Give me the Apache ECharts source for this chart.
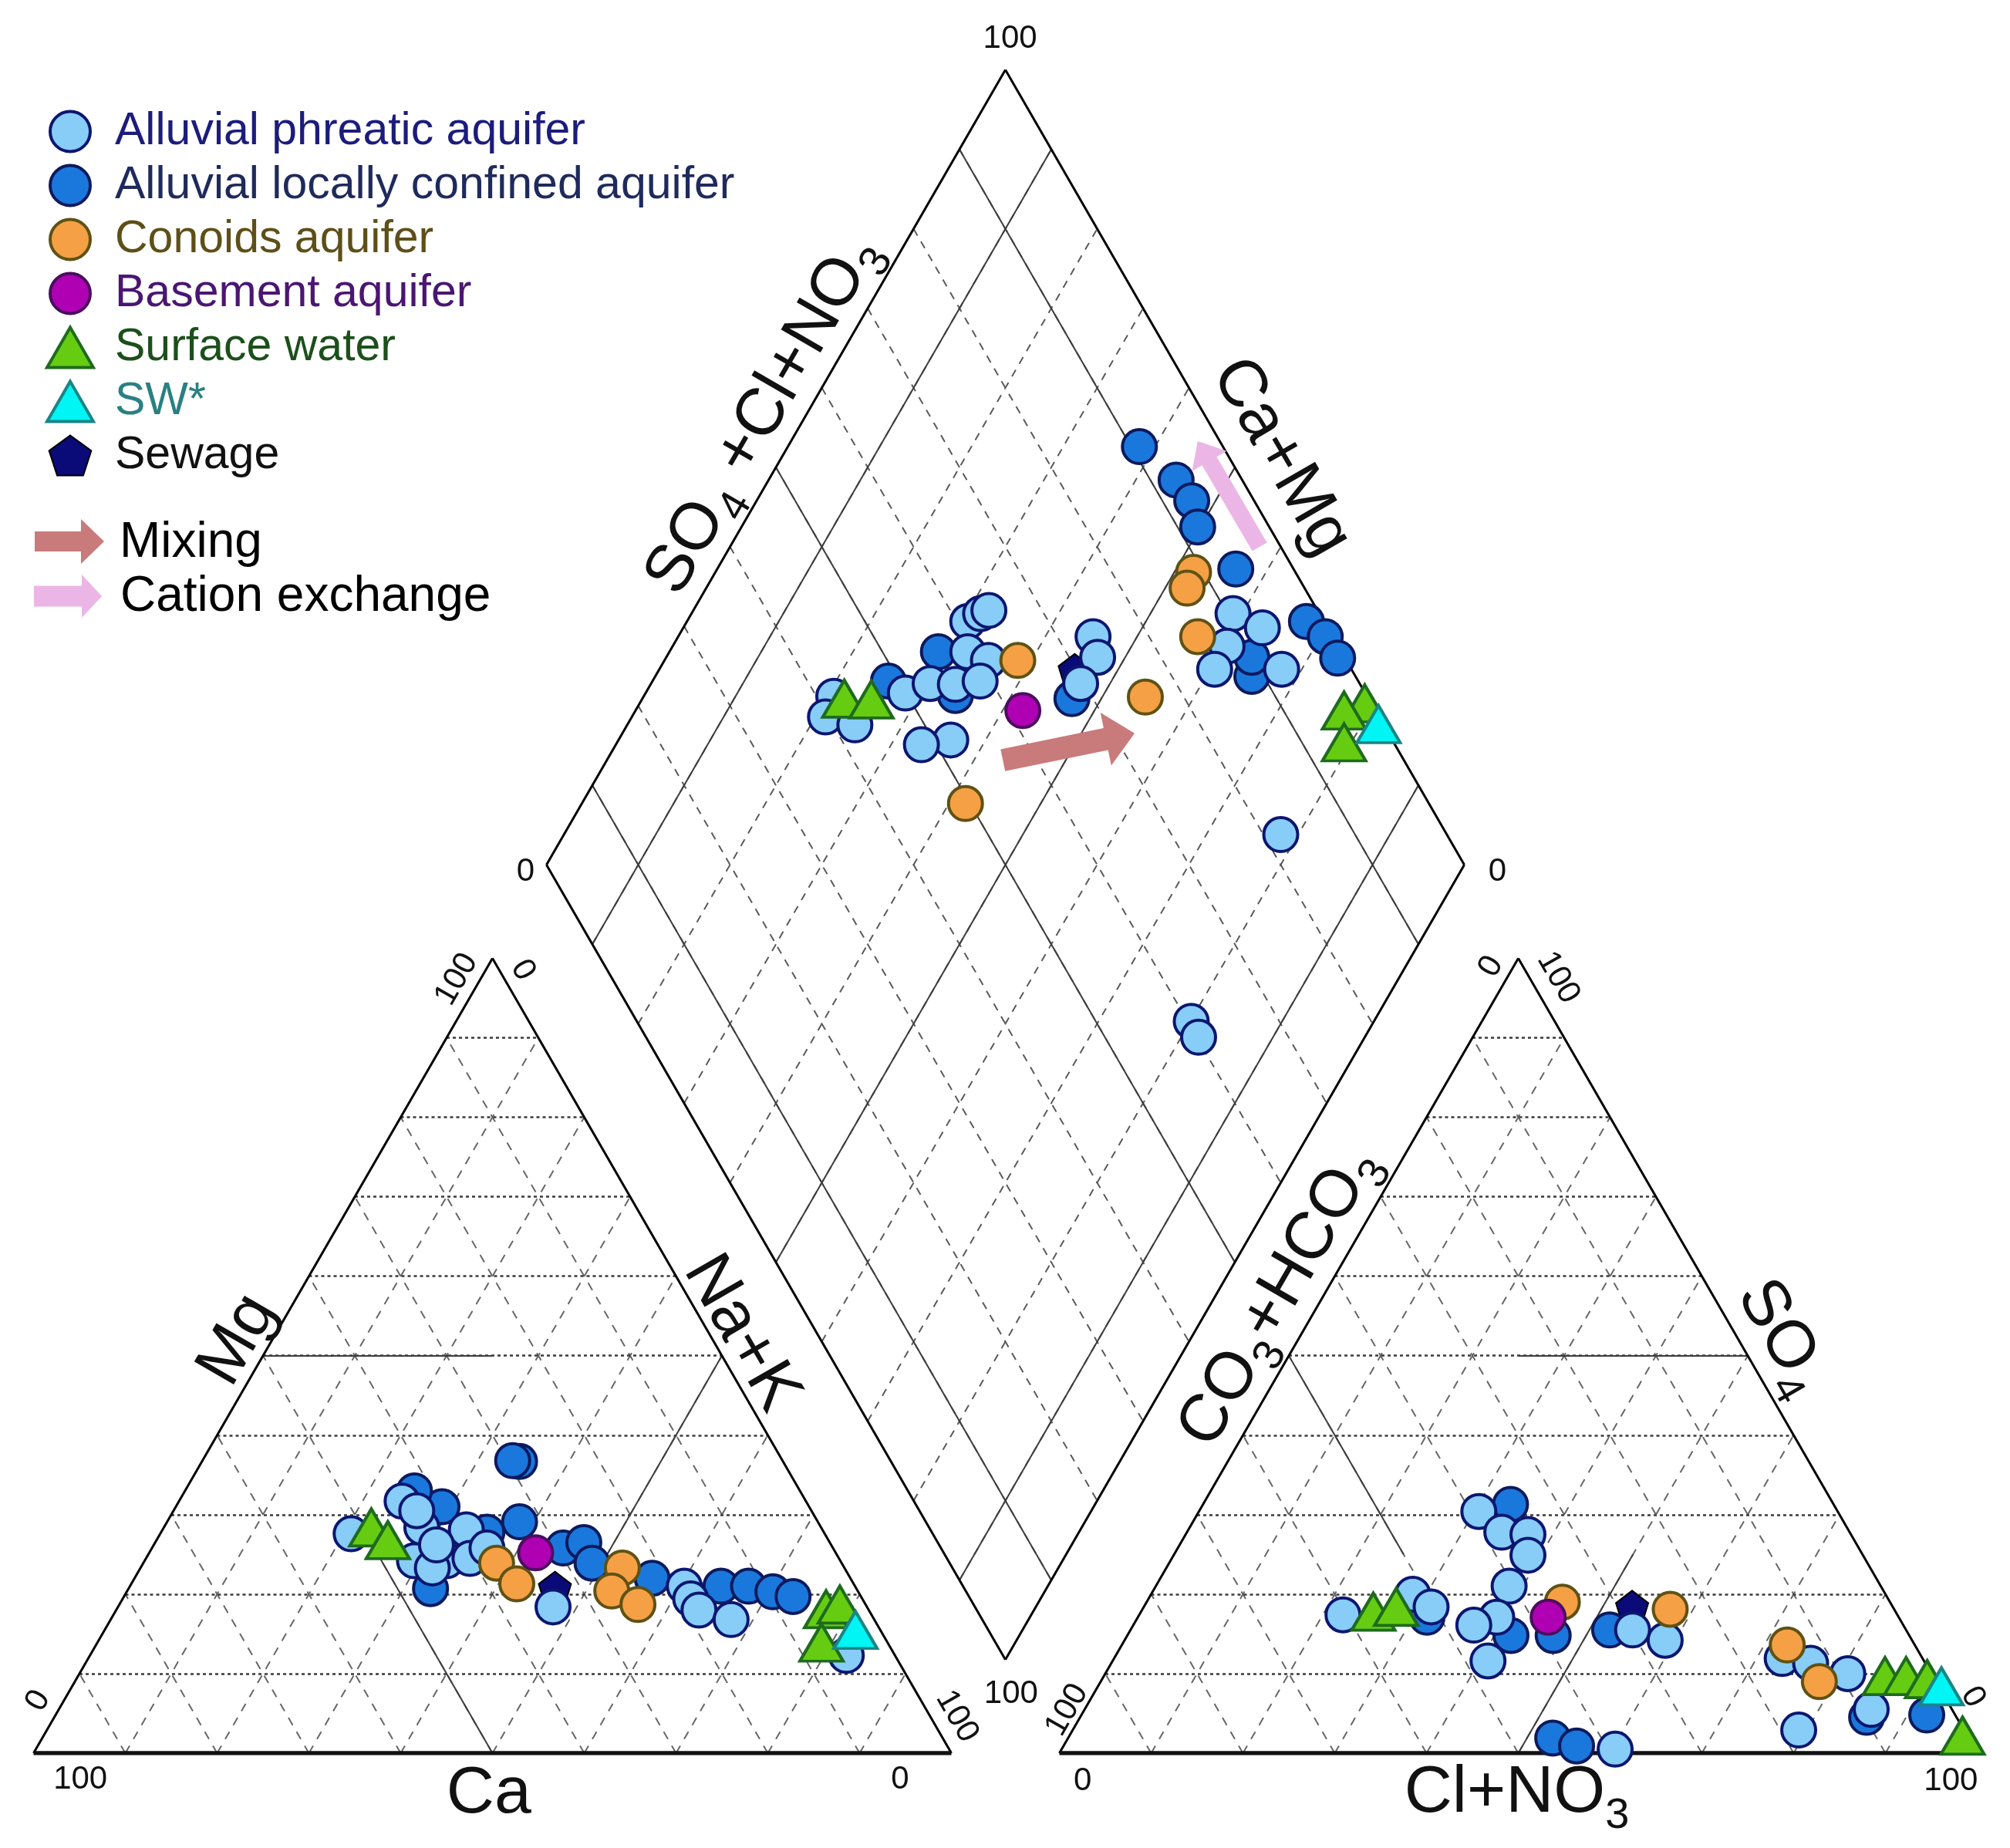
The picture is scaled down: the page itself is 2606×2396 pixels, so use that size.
<!DOCTYPE html>
<html>
<head>
<meta charset="utf-8">
<title>Piper diagram</title>
<script src="https://cdn.jsdelivr.net/npm/echarts@6.0.0/dist/echarts.min.js"></script>
<style>
html,body{margin:0;padding:0;background:#ffffff;}
#chart{width:2606px;height:2396px;}
</style>
</head>
<body>
<div id="chart"></div>
<script>
// ---------------- DATA (percent of meq/L) ----------------
// Cation triangle: [Na+K, Mg]   (Ca = 100 - Na+K - Mg)
const phreaticCation = [[20.8,27.6],[24.3,31.7],[28.1,28.4],[29.4,24.2],[32.9,24.2],[31.8,23.3],[33.1,28.1],[35.3,24.5],[36.5,25.8],[26.5,30.5],[30.8,26.2],[47.4,18.4],[60.4,21.0],[61.9,19.4],[63.5,18.0],[67.6,16.8],[82.4,12.3]];
const confinedCation = [[34.6,36.7],[33.8,36.8],[38.4,29.1],[29.0,31.0],[25.0,33.0],[35.5,27.8],[44.8,25.8],[46.7,26.5],[48.9,23.9],[56.4,22.0],[64.4,21.0],[67.4,21.0],[70.4,20.3],[72.9,19.7],[32.9,20.7]];
const conoidsCation = [[38.5,23.9],[42.0,21.3],[52.5,23.3],[52.8,20.4],[56.5,18.7]];
const basementCation = [[42.1,25.2]];
const surfaceCation = [[22.6,28.4],[25.2,26.8],[77.3,18.1],[78.5,18.7],[78.9,13.9]];
const swCation = [[81.8,15.5]];
const sewageCation = [[46.4,20.8]];

// Anion triangle: [Cl+NO3, SO4]   (CO3+HCO3 = 100 - Cl+NO3 - SO4)
const phreaticAnion = [[22.2,17.4],[28.5,20.0],[31.3,18.4],[30.5,30.4],[34.3,27.8],[37.3,27.5],[38.6,24.9],[38.5,21.0],[39.1,17.1],[37.1,16.1],[40.9,11.6],[54.7,15.5],[58.9,14.2],[72.8,11.9],[76.2,11.3],[79.1,2.9],[85.7,5.5],[80.9,10.0],[60.3,0.5]];
const confinedAnion = [[33.5,31.3],[46.4,14.8],[52.2,15.5],[52.8,1.9],[55.9,0.9],[31.5,17.1],[41.8,14.8],[85.7,4.5],[92.1,4.8]];
const conoidsAnion = [[45.3,19.0],[57.5,18.1],[72.5,13.6],[78.3,9.0]];
const basementAnion = [[44.7,17.1]];
const surfaceAnion = [[25.3,17.8],[27.5,18.4],[85.1,9.7],[87.4,9.7],[89.9,9.3],[97.3,2.2]];
const swAnion = [[91.9,8.4]];
const sewageAnion = [[53.2,18.4]];

// Diamond: [SO4+Cl+NO3, Ca+Mg]
const phreaticDiamond = [[41.9,79.3],[39.7,78.9],[42.4,75.2],[49.9,71.7],[53.2,69.6],[55.9,66.8],[51.9,63.8],[48.4,66.7],[61.2,69.4],[63.1,68.5],[64.2,67.8],[59.3,67.5],[61.0,64.7],[58.8,64.3],[73.9,54.8],[73.1,53.0],[69.6,53.2],[90.6,41.0],[92.9,36.9],[87.9,39.6],[85.1,39.5],[92.4,32.2],[81.9,21.9],[60.4,19.9],[60.2,18.1]];
const confinedDiamond = [[90.9,61.7],[92.8,55.6],[93.2,52.6],[92.2,50.3],[93.7,43.5],[98.1,32.5],[99.2,29.5],[99.2,26.8],[88.7,35.0],[89.9,36.2],[56.1,70.7],[67.7,53.2],[48.8,74.3],[55.2,66.1]];
const conoidsDiamond = [[64.2,61.5],[88.9,47.9],[87.2,47.6],[85.3,43.4],[75.8,45.3],[49.5,58.2]];
const basementDiamond = [[61.6,57.8]];
const surfaceDiamond = [[42.9,78.0],[45.8,75.0],[99.3,21.0],[96.6,22.8],[94.6,20.8]];
const swDiamond = [[99.5,18.2]];
const sewageDiamond = [[69.8,54.7]];

// Arrows drawn in the diamond: [SO4+Cl+NO3, Ca+Mg] from -> to
const mixingArrow = [[56.3,56.85],[72.35,44.2]];
const cationExchangeArrow = [[97.7,42.3],[97.6,55.7]];

const groupNames = ['Alluvial phreatic aquifer','Alluvial locally confined aquifer','Conoids aquifer','Basement aquifer','Surface water','SW*','Sewage'];
const gridSteps = [10,20,30,40,50,60,70,80,90];
const classSteps = [10,50,90];

// ---------------- GEOMETRY ----------------
const FONT = '"Liberation Sans", Arial, Helvetica, sans-serif';
const PX = 11.9;                // px per percent unit along a side
const S3 = Math.sqrt(3);
const GAP = 140 / PX;           // gap between the two triangles
const cat = p => [p[0] + p[1] / 2, p[1] * S3 / 2];
const an  = p => [100 + GAP + p[0] + p[1] / 2, p[1] * S3 / 2];
const BX = 100 + GAP / 2, BY = GAP / 2 * S3;
const dia = p => { const a = p[0] / 100, u = 1 - p[1] / 100; return [BX - 50 + 50 * (a + u), BY + 50 * S3 * (1 + a - u)]; };

// grid line segments
const triDash = [], triDot = [], diaDash = [], solid = [], edges = [], bottoms = [];
gridSteps.forEach(v => {
  triDot.push([cat([0, v]), cat([100 - v, v])]);
  triDash.push([cat([100 - v, 0]), cat([0, 100 - v])]);
  triDash.push([cat([v, 0]), cat([v, 100 - v])]);
  triDot.push([an([0, v]), an([100 - v, v])]);
  triDash.push([an([v, 0]), an([v, 100 - v])]);
  triDash.push([an([100 - v, 0]), an([0, 100 - v])]);
  diaDash.push([dia([v, 100]), dia([v, 0])]);
  diaDash.push([dia([0, v]), dia([100, v])]);
});
// facies subdivision lines
solid.push([cat([0, 50]), cat([25, 50])], [cat([50, 0]), cat([25, 25])], [cat([50, 50]), cat([50, 25])]);
solid.push([an([50, 50]), an([25, 50])], [an([0, 50]), an([25, 25])], [an([50, 0]), an([50, 25])]);
classSteps.forEach(v => {
  solid.push([dia([v, 100]), dia([v, 0])]);
  solid.push([dia([0, v]), dia([100, v])]);
});
edges.push([cat([0, 0]), cat([0, 100])], [cat([0, 100]), cat([100, 0])]);
edges.push([an([0, 0]), an([0, 100])], [an([0, 100]), an([100, 0])]);
edges.push([dia([0, 0]), dia([0, 100])], [dia([0, 100]), dia([100, 100])], [dia([100, 100]), dia([100, 0])], [dia([100, 0]), dia([0, 0])]);
bottoms.push([cat([0, 0]), cat([100, 0])], [an([0, 0]), an([100, 0])]);

function linesSeries(segs, style, z) {
  return { type: 'lines', coordinateSystem: 'cartesian2d', polyline: false, silent: true, z: z,
    animation: false, lineStyle: Object.assign({ opacity: 1, curveness: 0 }, style),
    data: segs.map(s => ({ coords: s })) };
}
function scatterSeries(name, cats, ans, dias, symbol, size, fill, border, bw, z) {
  return { type: 'scatter', name: name, symbol: symbol, symbolSize: size, z: z, animation: false,
    itemStyle: { color: fill, borderColor: border, borderWidth: bw, opacity: 1 },
    emphasis: { disabled: true },
    data: cats.map(cat).concat(ans.map(an), dias.map(dia)) };
}
const PENT = 'path://M0,-10 L9.51,-3.09 L5.88,8.09 L-5.88,8.09 L-9.51,-3.09 Z';
const TRI = 'path://M30,0 L60,52 L0,52 Z';

const option = {
  backgroundColor: '#ffffff',
  animation: false,
  grid: { left: 43.5, top: 2273 - 184 * PX, width: 212 * PX, height: 184 * PX, containLabel: false },
  xAxis: { type: 'value', min: 0, max: 212, show: false },
  yAxis: { type: 'value', min: 0, max: 184, show: false },
  legend: {
    orient: 'vertical', left: 54, top: 136, itemWidth: 106, itemHeight: 52, itemGap: 11,
    selectedMode: false, symbolKeepAspect: true,
    itemStyle: { borderWidth: 4 },
    textStyle: { fontSize: 59, fontFamily: FONT, lineHeight: 52 },
    data: [
      { name: groupNames[0], icon: 'circle', textStyle: { color: '#1c1c7c' } },
      { name: groupNames[1], icon: 'circle', textStyle: { color: '#1f2a5c' } },
      { name: groupNames[2], icon: 'circle', textStyle: { color: '#5e4f18' } },
      { name: groupNames[3], icon: 'circle', textStyle: { color: '#4a1672' } },
      { name: groupNames[4], icon: TRI, textStyle: { color: '#1c4f1c' } },
      { name: groupNames[5], icon: TRI, textStyle: { color: '#2a8082' } },
      { name: groupNames[6], icon: PENT, itemStyle: { borderWidth: 2 }, textStyle: { color: '#111111' } }
    ]
  },
  series: [
    linesSeries(diaDash, { color: '#5a5a5a', width: 2, type: [10, 9] }, 1),
    linesSeries(triDash, { color: '#666666', width: 2, type: [11, 10] }, 1),
    linesSeries(triDot, { color: '#3a3a3a', width: 2.5, type: [4, 4] }, 1),
    linesSeries(solid, { color: '#3c3c3c', width: 2 }, 2),
    linesSeries(edges, { color: '#000000', width: 3 }, 3),
    linesSeries(bottoms, { color: '#111111', width: 5.5 }, 3),
    scatterSeries(groupNames[6], sewageCation, sewageAnion, sewageDiamond, PENT, 42, '#0a0a78', '#000000', 2, 5),
    scatterSeries(groupNames[1], confinedCation, confinedAnion, confinedDiamond, 'circle', 44, '#1a78dc', '#0c1a5e', 4, 6),
    scatterSeries(groupNames[0], phreaticCation, phreaticAnion, phreaticDiamond, 'circle', 44, '#87cdf7', '#0c1670', 4, 6),
    scatterSeries(groupNames[2], conoidsCation, conoidsAnion, conoidsDiamond, 'circle', 44, '#f5a045', '#5e5214', 4, 7),
    scatterSeries(groupNames[3], basementCation, basementAnion, basementDiamond, 'circle', 44, '#b000b4', '#4a0e5e', 4, 7),
    scatterSeries(groupNames[4], surfaceCation, surfaceAnion, surfaceDiamond, 'triangle', [56, 48], '#66cc11', '#1e6b1e', 4, 8),
    scatterSeries(groupNames[5], swCation, swAnion, swDiamond, 'triangle', [56, 48], '#00f5f5', '#1a8585', 4, 8)
  ]
};

const chart = echarts.init(document.getElementById('chart'));
chart.setOption(option);

// ---------------- ANNOTATIONS (positioned in data units) ----------------
const toPx = p => chart.convertToPixel({ gridIndex: 0 }, p);
const R60 = Math.PI / 3;
function tok(size) { return { fontSize: size, fontFamily: FONT, verticalAlign: 'top', fill: '#111' }; }
function sub(size) { return { fontSize: size, fontFamily: FONT, verticalAlign: 'bottom', padding: [44, 0, 0, 0], fill: '#111' }; }
function textEl(text, p, rot, size, rich) {
  const q = toPx(p);
  const st = { text: text, fontSize: size, fontFamily: FONT, fill: '#111111',
    align: 'center', verticalAlign: 'middle', textAlign: 'center', textVerticalAlign: 'middle' };
  if (rich) st.rich = rich;
  return { type: 'text', x: q[0], y: q[1], rotation: rot, z: 50, silent: true, style: st };
}
const richTitle = { m: tok(86), s: sub(56) };
const TK = 42;
const graphics = [
  // tick labels
  textEl('100', [106.4, 186.8], 0, TK),
  textEl('0', [53.6, 96.0], 0, TK),
  textEl('0', [159.5, 96.0], 0, TK),
  textEl('100', [106.5, 6.4], 0, TK),
  textEl('100', [5.1, -2.9], 0, TK),
  textEl('0', [94.4, -2.9], 0, TK),
  textEl('0', [0.5, 5.7], R60, TK),
  textEl('100', [46.1, 84.3], R60, TK),
  textEl('0', [53.3, 85.3], -R60, TK),
  textEl('100', [100.6, 4.0], -R60, TK),
  textEl('0', [114.3, -3.1], 0, TK),
  textEl('100', [208.9, -3.1], 0, TK),
  textEl('100', [112.6, 4.7], R60, TK),
  textEl('0', [158.8, 85.7], R60, TK),
  textEl('100', [166.1, 84.5], -R60, TK),
  textEl('0', [211.3, 6.1], -R60, TK),
  // axis titles
  textEl('Ca', [49.6, -4.45], 0, 86),
  textEl('{m|Cl+NO}{s|3}', [161.6, -5.0], 0, 86, richTitle),
  textEl('Mg', [22.3, 45.0], R60, 86),
  textEl('Na+K', [77.1, 45.7], -R60, 86),
  textEl('{m|CO}{s|3}{m|+HCO}{s|3}', [136.2, 49.4], R60, 86, richTitle),
  textEl('{m|SO}{s|4}', [190.0, 45.0], -R60, 86, richTitle),
  textEl('{m|SO}{s|4}{m| +Cl+NO}{s|3}', [80.0, 145.5], R60, 86, richTitle),
  textEl('Ca+Mg', [135.9, 141.2], -R60, 86)
];

function arrowPts(p0, p1, shaftW, headW, headL) {
  const dx = p1[0] - p0[0], dy = p1[1] - p0[1], len = Math.hypot(dx, dy);
  const ux = dx / len, uy = dy / len, nx = -uy, ny = ux;
  const bx = p1[0] - ux * headL, by = p1[1] - uy * headL;
  return [
    [p0[0] + nx * shaftW / 2, p0[1] + ny * shaftW / 2],
    [bx + nx * shaftW / 2, by + ny * shaftW / 2],
    [bx + nx * headW / 2, by + ny * headW / 2],
    [p1[0], p1[1]],
    [bx - nx * headW / 2, by - ny * headW / 2],
    [bx - nx * shaftW / 2, by - ny * shaftW / 2],
    [p0[0] - nx * shaftW / 2, p0[1] - ny * shaftW / 2]
  ];
}
const MIX = '#c97a7a', CEX = '#ebb6e6';
graphics.push(
  { type: 'polygon', z: 4, silent: true, shape: { points: arrowPts(toPx(dia(mixingArrow[0])), toPx(dia(mixingArrow[1])), 29, 70, 38) }, style: { fill: MIX } },
  { type: 'polygon', z: 4, silent: true, shape: { points: arrowPts(toPx(dia(cationExchangeArrow[0])), toPx(dia(cationExchangeArrow[1])), 22, 52, 30) }, style: { fill: CEX } },
  // legend arrows
  { type: 'polygon', z: 50, silent: true, shape: { points: arrowPts([45, 702], [135, 702], 26, 58, 30) }, style: { fill: MIX } },
  { type: 'polygon', z: 50, silent: true, shape: { points: arrowPts([44, 773], [132, 773], 27, 56, 26) }, style: { fill: CEX } },
  { type: 'text', z: 50, silent: true, x: 155, y: 704, style: { text: 'Mixing', fontSize: 64, fontFamily: FONT, fill: '#000', align: 'left', verticalAlign: 'middle', textAlign: 'left', textVerticalAlign: 'middle' } },
  { type: 'text', z: 50, silent: true, x: 156, y: 774, style: { text: 'Cation exchange', fontSize: 64, fontFamily: FONT, fill: '#000', align: 'left', verticalAlign: 'middle', textAlign: 'left', textVerticalAlign: 'middle' } }
);
chart.setOption({ graphic: graphics });
</script>
</body>
</html>
